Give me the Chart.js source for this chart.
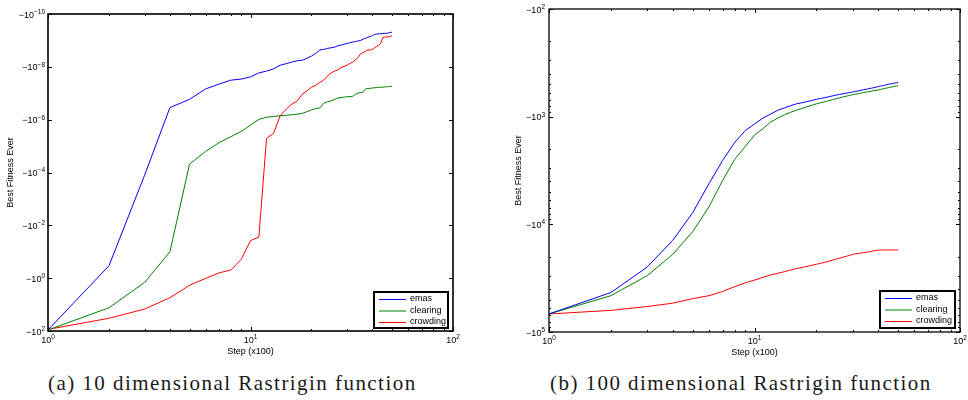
<!DOCTYPE html>
<html><head><meta charset="utf-8">
<script src="https://cdn.jsdelivr.net/npm/chart.js@4.4.1/dist/chart.umd.min.js"></script>
<style>
html,body{margin:0;padding:0;background:#fff;width:968px;height:400px;overflow:hidden;}
#a{position:absolute;left:0;top:0;}
#b{position:absolute;left:484px;top:0;}
.cap{position:absolute;top:371px;font-family:"Liberation Serif","DejaVu Serif",serif;font-size:21px;color:#1a1a1a;white-space:nowrap;letter-spacing:1.45px;}
</style></head><body>
<canvas id="a" width="484" height="360"></canvas>
<canvas id="b" width="484" height="360"></canvas>
<div class="cap" id="capA" style="left:48px">(a) 10 dimensional Rastrigin function</div>
<div class="cap" id="capB" style="left:550px">(b) 100 dimensional Rastrigin function</div>
<script>
// Steps (x100)
const steps = [1,2,3,4,5,6,7,8,9,10,11,12,13,14,15,16,17,18,19,20,21,22,23,24,25,26,27,28,29,30,31,32,33,34,35,36,37,38,39,40,41,42,43,44,45,46,47,48,49,50];
const seriesNames = ['emas','clearing','crowding'];
const seriesColors = ['#0000ff','#008000','#ff0000'];

// (a) 10 dimensional Rastrigin — best fitness ever (negative values)
const emas10 = [-91,-0.34,-1.26e-4,-3.5e-7,-1.7e-7,-6.9e-8,-4.5e-8,-3.2e-8,-2.9e-8,-2.4e-8,-1.7e-8,-1.45e-8,-1.2e-8,-8.7e-9,-7.6e-9,-6.6e-9,-5.9e-9,-5.6e-9,-4.8e-9,-3.9e-9,-3.1e-9,-2.3e-9,-2.2e-9,-2.0e-9,-1.9e-9,-1.8e-9,-1.6e-9,-1.5e-9,-1.4e-9,-1.3e-9,-1.23e-9,-1.15e-9,-1.1e-9,-1.05e-9,-1.0e-9,-8.9e-10,-8.3e-10,-7.6e-10,-7.1e-10,-6.6e-10,-5.9e-10,-5.8e-10,-5.6e-10,-5.6e-10,-5.5e-10,-5.4e-10,-5.4e-10,-5.2e-10,-5.0e-10,-4.9e-10];
const clearing10 = [-91,-13.2,-1.45,-0.1,-4.8e-5,-1.6e-5,-7.4e-6,-4.4e-6,-2.8e-6,-1.6e-6,-9.8e-7,-8.1e-7,-7.6e-7,-7.1e-7,-6.8e-7,-6.5e-7,-6.2e-7,-5.8e-7,-5.0e-7,-4.3e-7,-3.8e-7,-3.6e-7,-2.4e-7,-2.1e-7,-1.95e-7,-1.7e-7,-1.5e-7,-1.45e-7,-1.4e-7,-1.35e-7,-1.35e-7,-1.3e-7,-1.1e-7,-9.8e-8,-9.5e-8,-9.1e-8,-6.8e-8,-6.6e-8,-6.5e-8,-6.3e-8,-6.2e-8,-6.1e-8,-6.0e-8,-5.9e-8,-5.9e-8,-5.8e-8,-5.7e-8,-5.6e-8,-5.5e-8,-5.5e-8];
const crowding10 = [-87,-33,-14.8,-5.5,-1.86,-1.02,-0.63,-0.49,-0.195,-0.038,-0.0275,-5.1e-6,-3.3e-6,-7.2e-7,-4.0e-7,-2.6e-7,-1.95e-7,-1.1e-7,-8.1e-8,-5.9e-8,-5.0e-8,-3.9e-8,-3.2e-8,-2.2e-8,-1.7e-8,-1.45e-8,-1.3e-8,-1.07e-8,-9.5e-9,-8.7e-9,-7.4e-9,-6.6e-9,-5.5e-9,-4.4e-9,-3.2e-9,-2.9e-9,-2.6e-9,-2.3e-9,-2.3e-9,-2.2e-9,-1.9e-9,-1.7e-9,-1.5e-9,-1.26e-9,-7.9e-10,-7.4e-10,-7.4e-10,-7.4e-10,-6.9e-10,-6.6e-10];

// (b) 100 dimensional Rastrigin
const emas100 = [-6.8e4,-4.3e4,-2.5e4,-1.41e4,-7.8e3,-4.2e3,-2.55e3,-1.74e3,-1.35e3,-1.17e3,-1.03e3,-944,-870,-830,-790,-760,-742,-725,-707,-690,-677,-665,-653,-641,-630,-621,-613,-605,-597,-590,-583,-576,-569,-562,-556,-550,-544,-538,-532,-525,-520,-515,-510,-505,-500,-496,-492,-488,-484,-480];
const clearing100 = [-6.8e4,-4.6e4,-3.0e4,-1.9e4,-1.17e4,-6.9e3,-3.9e3,-2.5e3,-1.9e3,-1.48e3,-1.29e3,-1.12e3,-1.03e3,-960,-910,-870,-840,-810,-785,-760,-743,-727,-710,-695,-680,-668,-656,-645,-635,-625,-618,-611,-604,-597,-591,-585,-579,-573,-569,-565,-559,-553,-548,-542,-537,-532,-528,-523,-519,-515];
const crowding100 = [-6.8e4,-6.3e4,-5.8e4,-5.4e4,-4.9e4,-4.6e4,-4.2e4,-3.8e4,-3.5e4,-3.3e4,-3.1e4,-2.95e4,-2.85e4,-2.75e4,-2.66e4,-2.57e4,-2.52e4,-2.46e4,-2.40e4,-2.35e4,-2.30e4,-2.25e4,-2.20e4,-2.15e4,-2.10e4,-2.06e4,-2.02e4,-1.98e4,-1.94e4,-1.90e4,-1.88e4,-1.86e4,-1.85e4,-1.83e4,-1.82e4,-1.80e4,-1.78e4,-1.76e4,-1.75e4,-1.74e4,-1.735e4,-1.73e4,-1.73e4,-1.73e4,-1.73e4,-1.73e4,-1.73e4,-1.73e4,-1.73e4,-1.73e4];

// Tick exponents
const xTickExp = [0,1,2];
const yTickExpA = [-10,-8,-6,-4,-2,0,2];
const yTickExpB = [2,3,4,5];

const FONT = "'Liberation Sans', Arial, Helvetica, sans-serif";

function makeDatasets(arrs){
  return arrs.map((arr,i)=>({
    label: seriesNames[i],
    data: steps.map((s,k)=>({x:s, y:-arr[k]})),   // magnitude on a reversed log axis
    borderColor: seriesColors[i],
    backgroundColor: seriesColors[i],
    borderWidth: 1,
    pointRadius: 0,
    tension: 0,
    fill: false
  }));
}

// draw "prefix10^exp" MATLAB-style
function drawPow(ctx, prefix, exp, ax, baseY, align){
  ctx.font = '9px ' + FONT;
  const base = prefix + '10';
  const w1 = ctx.measureText(base).width;
  ctx.font = '6.5px ' + FONT;
  const es = String(exp).replace('-', '\u2212');
  const w2 = ctx.measureText(es).width;
  const tot = w1 + w2;
  const x0 = align === 'center' ? ax - tot / 2 : ax - tot;
  ctx.fillStyle = '#000';
  ctx.textAlign = 'left';
  ctx.textBaseline = 'alphabetic';
  ctx.font = '9px ' + FONT;
  ctx.fillText(base, x0, baseY);
  ctx.font = '6.5px ' + FONT;
  ctx.fillText(es, x0 + w1, baseY - 3.6);
}

const matlabPlugin = {
  id: 'matlab',
  afterDraw(chart, args, o){
    const {ctx, chartArea: a, scales:{x,y}} = chart;
    ctx.save();
    ctx.strokeStyle = '#000';
    const tick = (px, len, horiz) => {
      ctx.beginPath();
      if (horiz){
        ctx.moveTo(px, a.bottom); ctx.lineTo(px, a.bottom - len);
        ctx.moveTo(px, a.top); ctx.lineTo(px, a.top + len);
      } else {
        ctx.moveTo(a.left, px); ctx.lineTo(a.left + len, px);
        ctx.moveTo(a.right, px); ctx.lineTo(a.right - len, px);
      }
      ctx.stroke();
    };
    ctx.lineWidth = 1;
    for (let e = 0; e < 2; e++){
      for (let m = 2; m <= 9; m++){
        tick(Math.round(x.getPixelForValue(m * Math.pow(10, e))) + 0.5, 2, true);
      }
    }
    x.ticks.forEach(t => tick(Math.round(x.getPixelForValue(t.value)) + 0.5, 4, true));
    y.ticks.forEach(t => tick(Math.round(y.getPixelForValue(t.value)) + 0.5, 4, false));
    if (o.yMinor){
      const ex = y.ticks.map(t => Math.round(Math.log10(t.value)));
      for (let e = Math.min(...ex); e < Math.max(...ex); e++){
        for (let m = 2; m <= 9; m++) tick(Math.round(y.getPixelForValue(m * Math.pow(10, e))) + 0.5, 2, false);
      }
    }
    // box
    ctx.lineWidth = o.box;
    ctx.strokeRect(a.left, a.top, a.right - a.left, a.bottom - a.top);
    // tick labels
    x.ticks.forEach(t => drawPow(ctx, '', Math.round(Math.log10(t.value)), x.getPixelForValue(t.value), a.bottom + 12, 'center'));
    y.ticks.forEach(t => drawPow(ctx, '\u2212', Math.round(Math.log10(t.value)), a.left - o.yGap, y.getPixelForValue(t.value) + 3.5, 'right'));
    // legend
    const L = o.legend;
    const lx = a.right - L.r - L.w, ly = a.bottom - L.b - L.h;
    ctx.fillStyle = '#fff';
    ctx.fillRect(lx, ly, L.w, L.h);
    ctx.strokeStyle = '#000';
    ctx.lineWidth = 2;
    ctx.strokeRect(lx, ly, L.w, L.h);
    ctx.font = '9px ' + FONT;
    ctx.textBaseline = 'middle';
    ctx.textAlign = 'left';
    chart.data.datasets.forEach((ds, i) => {
      const cy = ly + 7 + i * 11.5;
      ctx.strokeStyle = ds.borderColor; ctx.lineWidth = 1;
      ctx.beginPath(); ctx.moveTo(lx + 5, cy + 0.5); ctx.lineTo(lx + 32, cy + 0.5); ctx.stroke();
      ctx.fillStyle = '#000';
      ctx.fillText(ds.label, lx + 36, cy);
    });
    ctx.restore();
  }
};

function makeChart(id, arrs, yMin, yMax, yMajor, opts){
  return new Chart(document.getElementById(id), {
    type: 'line',
    data: { datasets: makeDatasets(arrs) },
    plugins: [matlabPlugin],
    options: {
      responsive: false,
      animation: false,
      events: [],
      layout: { padding: opts.padding },
      plugins: {
        legend: { display: false },
        tooltip: { enabled: false },
        matlab: { yMinor: opts.yMinor, box: opts.box, legend: opts.legend, yGap: opts.yGap }
      },
      scales: {
        x: {
          type: 'logarithmic', min: 1, max: 100,
          grid: { display: false }, border: { display: false },
          afterBuildTicks: s => { s.ticks = xTickExp.map(e => ({value: Math.pow(10, e)})); },
          afterFit: s => { s.height = 26; },
          ticks: { display: false },
          title: { display: true, text: 'Step (x100)', color: '#000', padding: {top: 0, bottom: 0},
                   font: { family: FONT, size: 9 } }
        },
        y: {
          type: 'logarithmic', reverse: true, min: yMin, max: yMax,
          grid: { display: false }, border: { display: false },
          afterBuildTicks: s => { s.ticks = yMajor.map(e => ({value: Math.pow(10, e)})); },
          afterFit: s => { s.width = opts.yWidth; },
          ticks: { display: false },
          title: { display: true, text: 'Best Fitness Ever', color: '#000', padding: {top: opts.yTitlePad, bottom: 0},
                   font: { family: FONT, size: 9 } }
        }
      }
    }
  });
}

makeChart('a', [emas10, clearing10, crowding10], 1e-10, 1e2, yTickExpA, {
  padding: {left: 0, right: 31, top: 14, bottom: 3}, yWidth: 48, yGap: 3, yTitlePad: 5,
  yMinor: false, box: 1.6, legend: {w: 74, h: 36, r: 5, b: 3}
});
makeChart('b', [emas100, clearing100, crowding100], 1e2, 1e5, yTickExpB, {
  padding: {left: 0, right: 8, top: 9, bottom: 2}, yWidth: 65, yGap: 4, yTitlePad: 29,
  yMinor: true, box: 1.3, legend: {w: 75, h: 37, r: 5, b: 4}
});
</script>
</body></html>
